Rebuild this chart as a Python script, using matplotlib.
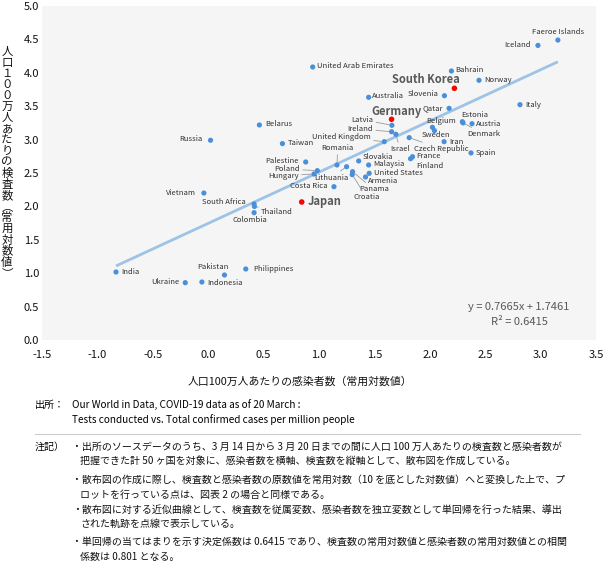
import matplotlib
matplotlib.use("Agg")
import matplotlib.pyplot as plt

plt.rcParams['font.family'] = ['Noto Sans CJK JP', 'DejaVu Sans']

# ---------------- data ----------------
countries = ["Faeroe Islands", "Iceland", "United Arab Emirates", "Bahrain", "Norway",
             "South Korea", "Slovenia", "Australia", "Italy", "Qatar", "Germany", "Latvia",
             "Estonia", "Denmark", "Austria", "Belgium", "Sweden", "Ireland", "Israel",
             "Czech Republic", "United Kingdom", "Iran", "Spain", "France", "Finland",
             "Slovakia", "Malaysia", "Romania", "Lithuania", "Panama", "Croatia",
             "United States", "Armenia", "Costa Rica", "Belarus", "Taiwan", "Palestine",
             "Poland", "Hungary", "Japan", "Russia", "Vietnam", "South Africa", "Thailand",
             "Colombia", "India", "Pakistan", "Philippines", "Ukraine", "Indonesia"]
cases_log = [3.156, 2.976, 0.943, 2.195, 2.444,
             2.222, 2.132, 1.448, 2.814, 2.174, 1.655, 1.658,
             2.294, 2.300, 2.381, 2.024, 2.042, 1.655, 1.694,
             1.814, 1.589, 2.129, 2.372, 1.844, 1.826,
             1.358, 1.448, 1.162, 1.249, 1.303, 1.300,
             1.453, 1.420, 1.135, 0.462, 0.670, 0.880,
             0.985, 0.955, 0.844, 0.021, -0.039, 0.414, 0.417,
             0.414, -0.832, 0.147, 0.339, -0.207, -0.057]
tests_log = [4.49, 4.41, 4.087, 4.027, 3.888,
             3.768, 3.657, 3.633, 3.523, 3.468, 3.304, 3.214,
             3.268, 3.25, 3.238, 3.184, 3.134, 3.118, 3.079,
             3.029, 2.969, 2.969, 2.80, 2.744, 2.714,
             2.68, 2.62, 2.62, 2.594, 2.52, 2.475,
             2.495, 2.44, 2.295, 3.219, 2.94, 2.665,
             2.535, 2.485, 2.066, 2.99, 2.20, 2.036, 2.0,
             1.906, 1.018, 0.973, 1.063, 0.858, 0.868]
highlight = ["South Korea", "Germany", "Japan"]
slope = 0.7665
intercept = 1.7461
r_squared = 0.6415
x_ticks = [-1.5, -1.0, -0.5, 0.0, 0.5, 1.0, 1.5, 2.0, 2.5, 3.0, 3.5]
y_ticks = [0.0, 0.5, 1.0, 1.5, 2.0, 2.5, 3.0, 3.5, 4.0, 4.5, 5.0]

# label placement (pixel offsets, y downward), alignment, leader line
label_layout = {
    "Faeroe Islands": (0, -8.3, 'center', False),
    "Iceland": (-7, 0, 'right', False),
    "United Arab Emirates": (4.6, -0.7, 'left', False),
    "Bahrain": (4, -0.7, 'left', False),
    "Norway": (5, -0.3, 'left', False),
    "South Korea": (5, -8.3, 'right', False),
    "Slovenia": (-5.7, -1.4, 'right', False),
    "Australia": (3.3, -1, 'left', False),
    "Italy": (5.4, 0, 'left', False),
    "Qatar": (-6, 0, 'right', False),
    "Germany": (5, -8, 'center', False),
    "Latvia": (-18.7, -5.7, 'right', True),
    "Ireland": (-18.4, -2.7, 'right', True),
    "United Kingdom": (-13.3, -4.4, 'right', True),
    "Israel": (4, 14.7, 'center', True),
    "Czech Republic": (5, 11.3, 'left', True),
    "Belgium": (9, -6, 'center', False),
    "Sweden": (1, 4.3, 'center', False),
    "Iran": (4.7, 0, 'left', False),
    "Estonia": (-1, -7, 'left', False),
    "Austria": (3.7, 0, 'left', False),
    "Denmark": (4.7, 11.3, 'left', True),
    "Spain": (4.7, 0.3, 'left', False),
    "France": (3.6, -0.4, 'left', False),
    "Finland": (5.6, 7.3, 'left', True),
    "Slovakia": (4, -4, 'left', False),
    "Malaysia": (4.6, -0.7, 'left', False),
    "Romania": (0.8, -17, 'center', True),
    "United States": (4.4, 0, 'left', False),
    "Belarus": (5.7, -0.7, 'left', False),
    "Taiwan": (5, -0.6, 'left', False),
    "Russia": (-8, -1, 'right', False),
    "Palestine": (-6.7, -1, 'right', False),
    "Poland": (-17.3, -1.7, 'right', True),
    "Hungary": (-15, 1.7, 'right', True),
    "Lithuania": (-15.7, 11, 'center', True),
    "Costa Rica": (-6.7, -0.7, 'right', False),
    "Japan": (5.6, -0.3, 'left', False),
    "Vietnam": (-7.7, 0, 'right', False),
    "South Africa": (-8.7, -1.7, 'right', False),
    "Thailand": (6.5, 5.2, 'left', True),
    "Colombia": (-4, 7.3, 'center', False),
    "India": (5, -0.3, 'left', False),
    "Pakistan": (-12, -7.7, 'center', False),
    "Philippines": (7, 0.3, 'left', False),
    "Ukraine": (-6, -0.4, 'right', False),
    "Indonesia": (5.6, 1.3, 'left', False),
    "Panama": (6.3, 17.6, 'left', True),
    "Croatia": (1, 22.6, 'left', True),
    "Armenia": (2.6, 4.3, 'left', False),
}

W, H = 604, 563
fig = plt.figure(figsize=(W / 100, H / 100), dpi=100)
ax = fig.add_axes([42 / W, 1 - 340 / H, 554 / W, 334 / H])
ax.set_facecolor('#f5f5f5')
for s in ax.spines.values():
    s.set_visible(False)
ax.set_xlim(-1.5, 3.5)
ax.set_ylim(0, 5)
ax.set_xticks(x_ticks)
ax.set_yticks(y_ticks)
ax.set_xticklabels([f"{v:.1f}" for v in x_ticks])
ax.set_yticklabels([f"{v:.1f}" for v in y_ticks])
ax.tick_params(length=0, labelsize=8, colors='#111111')
ax.tick_params(axis='x', pad=7)
ax.tick_params(axis='y', pad=2)

# regression line
xmin, xmax = min(cases_log), max(cases_log)
ax.plot([xmin, xmax], [slope * xmin + intercept, slope * xmax + intercept],
        color='#9dc3e6', lw=2.0, solid_capstyle='butt', zorder=2)

# points
for name, xv, yv in zip(countries, cases_log, tests_log):
    red = name in highlight
    ax.scatter([xv], [yv], s=16 if red else 14, color='#ff0000' if red else '#4a8fd9',
               edgecolors='none', zorder=4)
    dx, dy, ha, leader = label_layout[name]
    kw = dict(fontsize=8, color='#595959', fontweight='bold') if red else dict(fontsize=5.5, color='#333333')
    ap = dict(arrowstyle='-', color='#9a9a9a', lw=0.6, shrinkA=0, shrinkB=2) if leader else None
    ax.annotate(name, xy=(xv, yv), xytext=(dx, -dy), textcoords='offset pixels',
                ha=ha, va='center', arrowprops=ap, zorder=5, **kw)

ax.text(519 / W, 1 - 307 / H, f"y = {slope}x + {intercept}", transform=fig.transFigure,
        ha='center', va='center', fontsize=8, color='#595959')
ax.text(519 / W, 1 - 322 / H, f"R² = {r_squared}", transform=fig.transFigure,
        ha='center', va='center', fontsize=8, color='#595959')

# axis titles
fig.text(300 / W, 1 - 381 / H, "人口100万人あたりの感染者数（常用対数値）",
         ha='center', va='center', fontsize=7.8, color='#111111')
ylab = "人口１００万人あたりの検査数︵常用対数値︶"
for i, ch in enumerate(ylab):
    fig.text(7 / W, 1 - (51.5 + i * 11.1) / H, ch, ha='center', va='center',
             fontsize=8.2, color='#111111')

# source and notes
fs = 7.2
fig.text(35 / W, 1 - 405 / H, "出所：", ha='left', va='center', fontsize=fs)
fig.text(72 / W, 1 - 405 / H, "Our World in Data, COVID-19 data as of 20 March :",
         ha='left', va='center', fontsize=fs)
fig.text(72 / W, 1 - 420 / H, "Tests conducted vs. Total confirmed cases per million people",
         ha='left', va='center', fontsize=fs)
fig.add_artist(plt.Line2D([35 / W, 580 / W], [1 - 434 / H, 1 - 434 / H],
                          color='#cccccc', lw=0.8, transform=fig.transFigure))
fig.text(35 / W, 1 - 447 / H, "注記）", ha='left', va='center', fontsize=fs)
notes = [
    (72, 447, "・出所のソースデータのうち、3 月 14 日から 3 月 20 日までの間に人口 100 万人あたりの検査数と感染者数が"),
    (80, 461, "把握できた計 50 ヶ国を対象に、感染者数を横軸、検査数を縦軸として、散布図を作成している。"),
    (72, 480, "・散布図の作成に際し、検査数と感染者数の原数値を常用対数（10 を底とした対数値）へと変換した上で、プ"),
    (80, 495, "ロットを行っている点は、図表 2 の場合と同様である。"),
    (72, 510, "・散布図に対する近似曲線として、検査数を従属変数、感染者数を独立変数として単回帰を行った結果、導出"),
    (80, 524, "された軌跡を点線で表示している。"),
    (72, 542, "・単回帰の当てはまりを示す決定係数は 0.6415 であり、検査数の常用対数値と感染者数の常用対数値との相関"),
    (80, 557, "係数は 0.801 となる。"),
]
for px, py, t in notes:
    fig.text(px / W, 1 - py / H, t, ha='left', va='center', fontsize=fs, color='#111111')

fig.savefig("out.png", dpi=100)
